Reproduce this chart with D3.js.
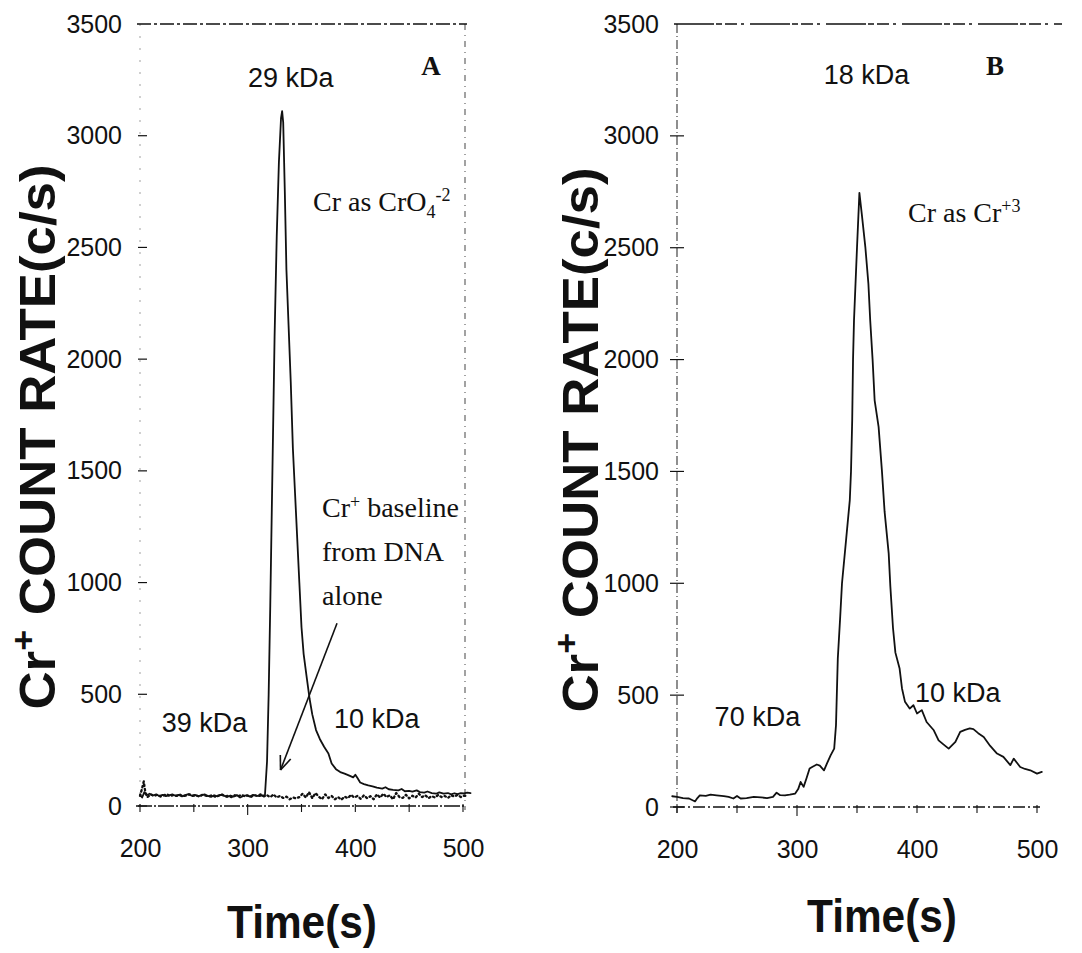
<!DOCTYPE html>
<html>
<head>
<meta charset="utf-8">
<script src="https://cdn.jsdelivr.net/npm/d3@7"></script>
<style>
  html, body { margin: 0; padding: 0; background: #fff; }
  svg { display: block; }
  .sans { font-family: "Liberation Sans", Arial, Helvetica, sans-serif; }
  .serif { font-family: "Liberation Serif", "Times New Roman", serif; }
</style>
</head>
<body>
<svg id="chart" width="1082" height="953"></svg>
<script>
// ---- data ----------------------------------------------------------------
const yTicks = [0, 500, 1000, 1500, 2000, 2500, 3000, 3500];
const xTicks = [200, 300, 400, 500];
const xMinorTicks = [250, 350, 450];

// Panel A: Cr added as chromate (time s, count rate c/s)
const chromateTime = [200,202,204,206,209,212,215,218,221,224,227,230,233,236,239,242,245,248,251,254,257,260,263,266,269,272,275,278,281,284,287,290,293,296,299,302,305,308,311,314,316,
  318,319.5,321,323,325,327,329,331,332,333,334.5,336,338,340,342,344,346,348,350,352,355,357.5,360,363.5,367,371,375,378,382,386,390,395,398,400,402,404.5,408,412,416,420,425,428,431,435,440,443,446,450,453,457,460,464,467,471,475,478,482,486,489,492,495,498,501,504,507];
const chromateCounts = [50,38,62,48,55,47,52,45,50,44,48,52,46,50,43,49,53,46,50,44,48,52,45,41,48,43,50,46,40,47,42,49,38,45,48,42,50,46,44,48,45,
  200,500,900,1500,2100,2550,2880,3080,3110,3060,2750,2400,2150,1900,1600,1400,1200,1000,800,680,570,480,410,340,300,265,235,190,165,152,145,135,128,140,125,105,98,92,88,82,78,84,75,72,70,76,66,68,64,70,62,60,65,58,55,61,55,58,52,57,53,58,56,60,58];

// Panel A: DNA alone baseline
const dnaTime = [200,202,203.5,205,207,210,213,216,219,222,225,228,231,234,237,240,243,246,249,252,255,258,261,264,267,270,273,276,279,282,285,288,291,294,297,300,303,306,309,312,315,318,321,324,327,330,333,336,339,342,345,348,351,354,357,360,363,366,369,372,375,378,381,384,387,390,393,396,399,402,405,408,411,414,417,420,423,426,429,432,435,438,441,444,447,450,453,456,459,462,465,468,471,474,477,480,483,486,489,492,495,498,501,504];
const dnaCounts = [45,80,110,60,40,52,45,50,42,48,53,44,49,45,51,44,47,52,45,48,42,50,46,43,49,41,47,52,44,46,40,48,43,50,44,47,41,49,45,52,43,48,40,52,38,45,36,42,30,38,34,40,55,38,62,35,58,42,30,52,36,45,30,40,28,42,35,50,38,45,32,48,35,44,30,52,38,55,40,48,30,58,40,36,50,34,46,38,55,40,48,35,44,38,50,40,45,36,48,42,50,40,46,44];

// Panel B: Cr added as Cr(III)
const crIIITime = [196,200,205,210,213,215,217,219,224,228,233,239,243,247,250,253,258,264,270,275,280,283,286,290,294,298.5,301,303,305.5,308,310.5,313,316.5,319,322.5,325,328,331,332.5,334,336,337.5,341,344,345,346,346.7,347.5,350,352,354,357,359.5,361,363,364.7,368,370.8,373,376.4,377.8,380,382,385.5,387.5,390,393.9,397,400,404,408,414,418,422,426.4,432,436,440,444,447,451,455.6,461,466.7,472,477.8,480.6,486,490,494.4,500,504];
const crIIICounts = [48,45,40,38,30,25,40,52,50,55,52,49,45,38,49,38,40,45,43,40,45,64,53,52,55,60,80,112,90,130,172,180,190,185,164,195,231,261,366,664,850,1000,1200,1372,1500,1729,2000,2175,2500,2745,2650,2500,2339,2176,2000,1818,1699,1500,1320,1134,985,800,690,619,530,470,440,455,418,433,380,343,298,280,261,291,336,345,351,348,330,313,273,239,224,187,216,179,170,164,149,157];

// Molecular-weight labels placed at (time, count)
const labelsA = [
  { text: "29 kDa", t: 340, c: 3220 },
  { text: "39 kDa", t: 260, c: 330 },
  { text: "10 kDa", t: 420, c: 350 }
];
const labelsB = [
  { text: "18 kDa", t: 358, c: 3230 },
  { text: "70 kDa", t: 267, c: 360 },
  { text: "10 kDa", t: 434, c: 470 }
];

// Arrow from the annotation down to the DNA baseline (time, count)
const arrowFrom = { t: 383, c: 818 };
const arrowTo = { t: 330.5, c: 161 };

// ---- drawing ---------------------------------------------------------------
const svg = d3.select("#chart");
const ink = "#111";

function panel(opts) {
  const g = svg.append("g");
  const x = d3.scaleLinear().domain([200, 500]).range(opts.xr);
  const y = d3.scaleLinear().domain([0, 3500]).range(opts.yr);
  const x0 = opts.xr[0];
  const yTop = y(3500), yBot = y(0);

  // frame lines (dash-dot, as plotted)
  g.append("line").attr("x1", x0 - 3).attr("x2", opts.topEnd).attr("y1", yTop).attr("y2", yTop)
    .attr("stroke", ink).attr("stroke-width", 1.4).attr("stroke-dasharray", opts.topDash);
  if (opts.rightBorder) {
    g.append("line").attr("x1", opts.rightBorder).attr("x2", opts.rightBorder).attr("y1", yTop).attr("y2", yBot + 4)
      .attr("stroke", ink).attr("stroke-width", 1.1).attr("stroke-dasharray", "6,5,1,5").attr("opacity", 0.7);
  }
  // y axis
  g.append("line").attr("x1", x0).attr("x2", x0).attr("y1", yTop).attr("y2", yBot + 6)
    .attr("stroke", ink).attr("stroke-width", 1.1).attr("stroke-dasharray", opts.leftDash).attr("opacity", opts.leftOpacity);
  // x axis
  g.append("line").attr("x1", x0 - 4).attr("x2", opts.bottomEnd).attr("y1", yBot).attr("y2", yBot)
    .attr("stroke", ink).attr("stroke-width", 1.6).attr("stroke-dasharray", opts.bottomDash);

  const yAxis = d3.axisLeft(y).tickValues(yTicks).tickFormat(d3.format("d")).tickSize(0).tickPadding(18);
  const ya = g.append("g").attr("transform", `translate(${x0},0)`).call(yAxis);
  ya.select(".domain").remove();
  ya.selectAll("text").attr("class", "sans").attr("font-size", 25).attr("fill", ink);
  // small tick marks on the y axis
  g.selectAll(".ytk").data(yTicks.slice(0, -1)).join("line")
    .attr("x1", x0 - opts.ytkIn).attr("x2", x0 + 7).attr("y1", d => y(d)).attr("y2", d => y(d))
    .attr("stroke", ink).attr("stroke-width", 1.2);

  const xAxis = d3.axisBottom(x).tickValues(xTicks).tickFormat(d3.format("d")).tickSize(0).tickPadding(33);
  const xa = g.append("g").attr("transform", `translate(0,${yBot})`).call(xAxis);
  xa.select(".domain").remove();
  xa.selectAll("text").attr("class", "sans").attr("font-size", 25).attr("fill", ink);
  g.selectAll(".xtk").data(xTicks.concat(xMinorTicks)).join("line")
    .attr("x1", d => x(d)).attr("x2", d => x(d)).attr("y1", yBot - 2).attr("y2", d => yBot + (d === 300 ? 9 : 6))
    .attr("stroke", ink).attr("stroke-width", 1.1);

  // axis titles
  const yl = g.append("text").attr("class", "sans")
    .attr("transform", `translate(${opts.ylabX},${opts.ylabY}) rotate(-90)`)
    .attr("text-anchor", "middle").attr("font-weight", "bold").attr("font-size", 50).attr("fill", ink)
    .attr("textLength", 545).attr("lengthAdjust", "spacingAndGlyphs");
  yl.append("tspan").text("Cr");
  yl.append("tspan").attr("dy", -20).attr("font-size", 34).text("+");
  yl.append("tspan").attr("dy", 20).text(" COUNT RATE(c/s)");

  g.append("text").attr("class", "sans").attr("x", opts.xlabX).attr("y", opts.xlabY)
    .attr("text-anchor", "middle").attr("font-weight", "bold").attr("font-size", 46).attr("fill", ink)
    .attr("textLength", 150).attr("lengthAdjust", "spacingAndGlyphs").text("Time(s)");

  // panel letter
  g.append("text").attr("class", "serif").attr("x", opts.letterX).attr("y", 75)
    .attr("text-anchor", "middle").attr("font-weight", "bold").attr("font-size", 27).attr("fill", ink).text(opts.letter);

  // kDa labels
  g.selectAll(".kda").data(opts.labels).join("text").attr("class", "sans")
    .attr("x", d => x(d.t)).attr("y", d => y(d.c)).attr("text-anchor", "middle")
    .attr("font-size", 27).attr("fill", ink).text(d => d.text);

  return { g, x, y };
}

function trace(p, times, counts, dash, width) {
  const pts = times.map((t, i) => [t, counts[i]]);
  const line = d3.line().x(d => p.x(d[0])).y(d => p.y(d[1])).curve(d3.curveLinear);
  p.g.append("path").attr("d", line(pts)).attr("fill", "none").attr("stroke", ink)
    .attr("stroke-width", width).attr("stroke-linejoin", "round").attr("stroke-linecap", "round")
    .attr("stroke-dasharray", dash);
}

// ---- Panel A --------------------------------------------------------------
const pA = panel({
  xr: [140, 463], yr: [806, 24], topEnd: 467, topDash: "14,3,3,3", rightBorder: 465,
  leftDash: "2,10", leftOpacity: 0.35, bottomDash: "16,2,2,2", bottomEnd: 466, ytkIn: 2,
  ylabX: 55, ylabY: 437, xlabX: 302, xlabY: 938, letter: "A", letterX: 431, labels: labelsA
});
trace(pA, dnaTime, dnaCounts, "1.5,3", 2.3);
trace(pA, chromateTime, chromateCounts, null, 1.8);

// annotation text
const ann = pA.g.append("text").attr("class", "serif").attr("font-size", 28).attr("fill", ink);
ann.append("tspan").attr("x", 322).attr("y", 517).text("Cr");
ann.append("tspan").attr("dy", -9).attr("font-size", 18).text("+");
ann.append("tspan").attr("dy", 9).text(" baseline");
ann.append("tspan").attr("x", 322).attr("y", 561).text("from DNA");
ann.append("tspan").attr("x", 322).attr("y", 605).text("alone");

const spA = pA.g.append("text").attr("class", "serif").attr("font-size", 28).attr("fill", ink)
  .attr("x", 313).attr("y", 211);
spA.append("tspan").text("Cr as CrO");
spA.append("tspan").attr("dy", 7).attr("font-size", 18).text("4");
spA.append("tspan").attr("dy", -17).attr("font-size", 18).text("-2");

// arrow
{
  const ax0 = pA.x(arrowFrom.t), ay0 = pA.y(arrowFrom.c);
  const ax1 = pA.x(arrowTo.t), ay1 = pA.y(arrowTo.c);
  pA.g.append("line").attr("x1", ax0).attr("y1", ay0).attr("x2", ax1).attr("y2", ay1)
    .attr("stroke", ink).attr("stroke-width", 1.6);
  const ang = Math.atan2(ay1 - ay0, ax1 - ax0);
  const head = 15, spread = 0.38;
  [ang + Math.PI - spread, ang + Math.PI + spread].forEach(a => {
    pA.g.append("line").attr("x1", ax1).attr("y1", ay1)
      .attr("x2", ax1 + head * Math.cos(a)).attr("y2", ay1 + head * Math.sin(a))
      .attr("stroke", ink).attr("stroke-width", 1.6);
  });
}

// ---- Panel B --------------------------------------------------------------
const pB = panel({
  xr: [677, 1037], yr: [807, 24], topEnd: 1062, topDash: "40,2,6,3,12,4,3,6", rightBorder: null,
  leftDash: "9,3,1,3", leftOpacity: 0.85, bottomDash: "12,3,2,3", bottomEnd: 1040, ytkIn: 7,
  ylabX: 598, ylabY: 440, xlabX: 882, xlabY: 932, letter: "B", letterX: 995, labels: labelsB
});
trace(pB, crIIITime, crIIICounts, null, 1.8);

const spB = pB.g.append("text").attr("class", "serif").attr("font-size", 28).attr("fill", ink)
  .attr("x", 908).attr("y", 222);
spB.append("tspan").text("Cr as Cr");
spB.append("tspan").attr("dy", -10).attr("font-size", 18).text("+3");
</script>
</body>
</html>
